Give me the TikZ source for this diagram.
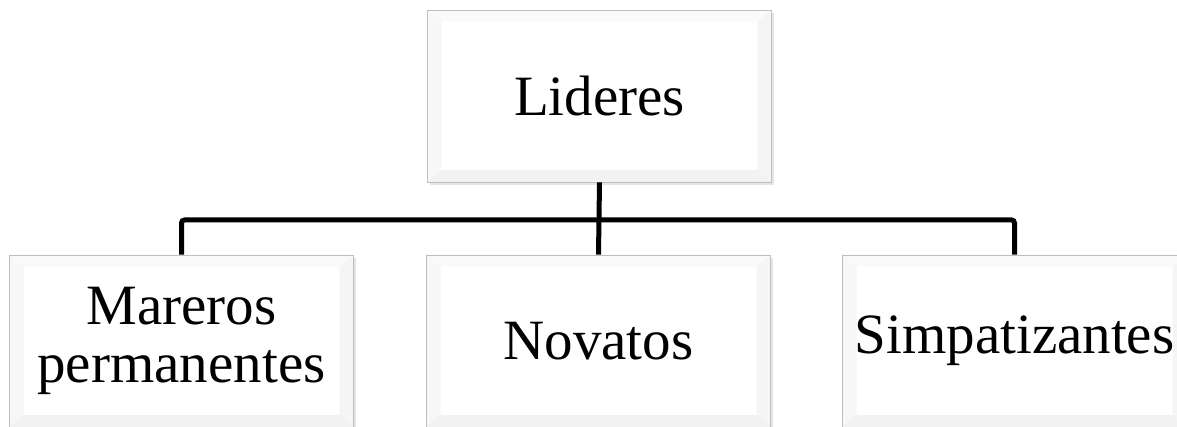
\documentclass[tikz,border=0pt]{standalone}
\usepackage{fontspec}
\setmainfont{Liberation Serif}
\usetikzlibrary{shadows}
\begin{document}
\begin{tikzpicture}[x=1pt,y=-1pt,
  bevelbox/.style={rectangle, draw=gray!50, line width=0.8pt, fill=white,
    minimum width=344pt, minimum height=172pt, inner sep=0pt, align=center,
    font=\fontsize{57}{58}\selectfont,
    drop shadow={shadow xshift=2pt, shadow yshift=-3pt, fill=gray!40, opacity=0.5},
    path picture={
      \coordinate (nw) at (path picture bounding box.north west);
      \coordinate (ne) at (path picture bounding box.north east);
      \coordinate (sw) at (path picture bounding box.south west);
      \coordinate (se) at (path picture bounding box.south east);
      \fill[gray!4] (nw) -- (ne) -- ([xshift=-14pt,yshift=-12pt]ne) -- ([xshift=14pt,yshift=-12pt]nw) -- cycle;
      \fill[gray!6] (nw) -- (sw) -- ([xshift=14pt,yshift=12pt]sw) -- ([xshift=14pt,yshift=-12pt]nw) -- cycle;
      \fill[gray!8] (ne) -- (se) -- ([xshift=-14pt,yshift=12pt]se) -- ([xshift=-14pt,yshift=-12pt]ne) -- cycle;
      \fill[gray!10] (sw) -- (se) -- ([xshift=-14pt,yshift=12pt]se) -- ([xshift=14pt,yshift=12pt]sw) -- cycle;
    }},
  conn/.style={line width=5pt, black, rounded corners=3pt}]
\useasboundingbox (0,0) rectangle (1177,427);
\clip (0,0) rectangle (1177,427);
\fill[white] (0,0) rectangle (1177,427);
\coordinate (barL) at (181.5,220);
\coordinate (barR) at (1014.5,220);
\node[bevelbox] (top) at (599.5,96) {Lideres};
\node[bevelbox] (mar) at (181.5,341) {Mareros\\permanentes};
\node[bevelbox] (nov) at (598.5,341) {Novatos};
\node[bevelbox] (sim) at (1014.5,341) {Simpatizantes};
\draw[conn] (top.south) -- (nov.north);
\draw[conn] (mar.north) -- (barL) -- (barR) -- (sim.north);
\end{tikzpicture}
\end{document}
